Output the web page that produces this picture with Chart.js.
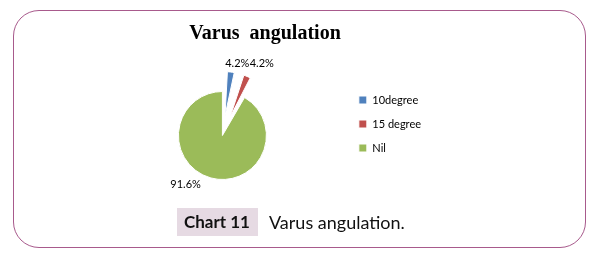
<!DOCTYPE html>
<html>
<head>
<meta charset="utf-8">
<script src="https://cdn.jsdelivr.net/npm/chart.js@4.4.1/dist/chart.umd.min.js"></script>
<style>
  html, body { margin: 0; padding: 0; background: #fff; }
  body { width: 597px; height: 259px; position: relative; overflow: hidden; }
  .frame {
    position: absolute; left: 13px; top: 10px; width: 573px; height: 238px;
    border: 1px solid #a85a8c; border-radius: 26px; box-sizing: border-box;
  }
  .wrap { position: absolute; left: 0; top: 0; width: 597px; height: 259px; }
  .caption {
    position: absolute; left: 177px; top: 208px; height: 28px;
    font-family: Lato, "Noto Sans", sans-serif; font-size: 18px; color: #111;
    display: flex; align-items: center;
  }
  .caption b {
    background: #e6dae3; height: 28px; line-height: 28px; padding: 0 8px 0 7px;
    font-size: 17px; margin-right: 11px;
  }
</style>
</head>
<body>
<div class="frame"></div>
<div class="wrap"><canvas id="pie" width="597" height="259"></canvas></div>
<div class="caption"><b>Chart 11</b><span>Varus angulation.</span></div>
<script>
var labels = ["10degree", "15 degree", "Nil"];
var values = [4.2, 4.2, 91.6];
var barColors = ["#4f81bd", "#c0504d", "#9bbb59"];
// chart.js v4 moves an arc by offset/4, so 80 -> about 20px out
var explode = [80, 80, 0];

// label placement around each slice: extra distance past the rim, angle nudge (deg)
var labelDist = [30, 38, 17];
var labelTurn = [4, 6, 22];

// chart.js also grows an offset arc's radius; undo that so exploded
// slices keep the same radius as the rest of the pie (like excel)
var keepRadius = {
  id: "keepRadius",
  afterDatasetUpdate(chart, args) {
    args.meta.data.forEach((arc, i) => {
      var off = (explode[i] || 0) / 4;
      var fix = 1 - Math.sin(Math.min(Math.PI, arc.circumference || 0));
      arc.outerRadius = arc.outerRadius - off * fix;
    });
  }
};

var pctLabels = {
  id: "pctLabels",
  afterDatasetsDraw(chart) {
    var ctx = chart.ctx;
    var meta = chart.getDatasetMeta(0);
    var R = meta.controller.outerRadius;
    var total = values.reduce((a, b) => a + b, 0);
    ctx.save();
    ctx.font = "11px Lato, 'Noto Sans', sans-serif";
    ctx.fillStyle = "#000";
    ctx.textAlign = "center";
    ctx.textBaseline = "middle";
    meta.data.forEach((arc, i) => {
      var mid = (arc.startAngle + arc.endAngle) / 2 + labelTurn[i] * Math.PI / 180;
      var r = R + labelDist[i];
      var x = arc.x + Math.cos(mid) * r;
      var y = arc.y + Math.sin(mid) * r;
      ctx.fillText((values[i] / total * 100).toFixed(1) + "%", x, y);
    });
    ctx.restore();
  }
};

new Chart(document.getElementById("pie"), {
  type: "pie",
  data: {
    labels: labels,
    datasets: [{
      data: values,
      backgroundColor: barColors,
      borderColor: "#fff",
      borderWidth: 1,
      offset: explode,
      clip: false
    }]
  },
  options: {
    responsive: false,
    animation: false,
    radius: 44,
    layout: { padding: { left: 99, right: 166, top: 22, bottom: 33 } },
    plugins: {
      title: {
        display: true,
        text: "Varus  angulation",
        color: "#000",
        font: { family: "'Liberation Serif', serif", size: 20, weight: "bold", lineHeight: 1.15 },
        padding: { top: 0, bottom: 0 }
      },
      legend: {
        position: "right",
        labels: {
          boxWidth: 8,
          boxHeight: 8,
          padding: 13,
          color: "#000",
          font: { family: "Lato, 'Noto Sans', sans-serif", size: 11 }
        }
      },
      tooltip: { enabled: false }
    }
  },
  plugins: [keepRadius, pctLabels]
});
</script>
</body>
</html>
